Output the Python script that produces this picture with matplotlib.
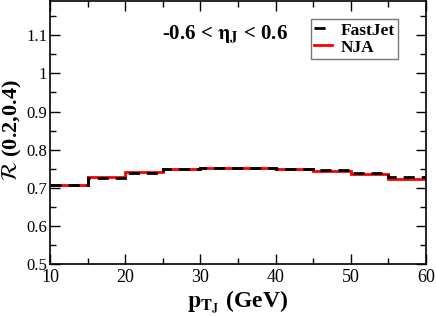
import matplotlib
matplotlib.use("Agg")
import matplotlib.pyplot as plt
from matplotlib.lines import Line2D

plt.rcParams['font.family'] = ['Liberation Serif', 'DejaVu Serif']
plt.rcParams['mathtext.fontset'] = 'stix'

bin_edges = [10, 15, 20, 25, 30, 35, 40, 45, 50, 55, 60]
fastjet = [0.706, 0.725, 0.740, 0.748, 0.752, 0.752, 0.750, 0.746, 0.739, 0.729]
nja = [0.708, 0.727, 0.741, 0.749, 0.753, 0.753, 0.750, 0.743, 0.735, 0.724]

fig = plt.figure(figsize=(4.36, 3.16), dpi=100)
ax = fig.add_axes([50/436, 52/316, 376/436, 263/316])

ax.stairs(fastjet, bin_edges, baseline=None, color='black', lw=2.0,
          linestyle=(0, (4, 2.5)), zorder=3)
ax.stairs(nja, bin_edges, baseline=None, color='red', lw=2.0, zorder=2)

ax.set_xlim(10, 60)
ax.set_ylim(0.5, 1.19)
ax.set_xticks([10, 20, 30, 40, 50, 60])
ax.set_xticks(range(15, 60, 10), minor=True)
ax.set_yticks([0.5, 0.6, 0.7, 0.8, 0.9, 1.0, 1.1])
ax.set_yticklabels(['0.5', '0.6', '0.7', '0.8', '0.9', '1', '1.1'])
ax.set_yticks([0.55, 0.65, 0.75, 0.85, 0.95, 1.05, 1.15], minor=True)
ax.tick_params(which='both', direction='in', top=True, right=True)
ax.tick_params(axis='x', labelsize=13)
ax.tick_params(axis='y', labelsize=12, pad=2)
ax.tick_params(which='major', length=7, width=1)
ax.tick_params(which='minor', length=4, width=1)
for s in ax.spines.values():
    s.set_linewidth(1.2)

ax.set_xlabel(r'$\mathbf{p}_{\mathbf{T}_{\mathbf{J}}}$ (GeV)', fontsize=17, fontweight='bold', labelpad=2)
ax.set_ylabel(r'$\mathcal{R}$ (0.2,0.4)', fontsize=16, fontweight='bold', ha='center', va='center')
ax.yaxis.set_label_coords(-0.1, 0.51)

ax.text(0.465, 0.87, r'-0.6 < $\mathbf{\eta}_\mathbf{J}$ < 0.6', transform=ax.transAxes,
        ha='center', va='center', fontsize=15, fontweight='bold')

handles = [Line2D([], [], color='black', lw=2, linestyle=(0, (4, 2.5))),
           Line2D([], [], color='red', lw=2)]
leg = ax.legend(handles, ['FastJet', 'NJA'], loc='upper right', bbox_to_anchor=(0.926, 0.932),
                prop={'weight': 'bold', 'size': 12.5}, frameon=True, fancybox=False,
                handlelength=1.0, handletextpad=0.5, borderpad=0.2, labelspacing=0.05,
                borderaxespad=0.0)
leg.get_frame().set_edgecolor('#555555')
leg.get_frame().set_linewidth(1.0)

fig.savefig("out.png")
